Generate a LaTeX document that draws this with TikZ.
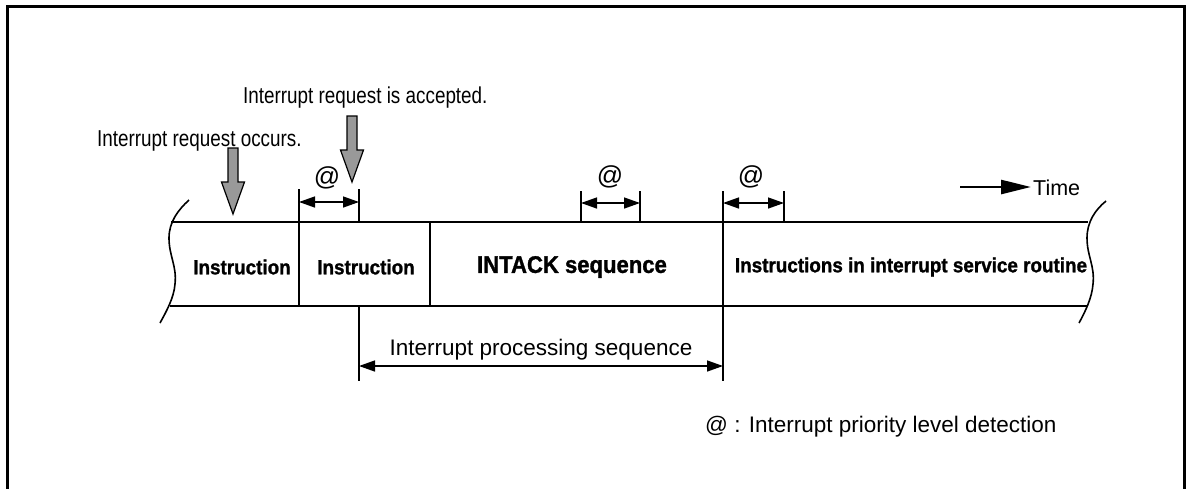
\documentclass[tikz,border=0pt]{standalone}
\usepackage{fontspec}
\setmainfont{Liberation Sans}
\newfontfamily\narrowfont[FakeStretch=0.82]{Liberation Sans}
\newfontfamily\heavyfont[FakeStretch=0.92, FakeBold=1.2]{Liberation Sans Bold}
\usetikzlibrary{arrows.meta, calc}

\tikzset{
  frame/.style={line width=3pt},
  bandline/.style={line width=2.2pt},
  edge/.style={line width=1.6pt},
  divider/.style={line width=1.6pt},
  dimarrow/.style={line width=1.4pt, {Triangle[length=16pt,width=11pt]}-{Triangle[length=16pt,width=11pt]}},
  reqarrow/.style={draw, line width=1.2pt, fill=black!40},
  boxlabel/.style={font=\heavyfont\fontsize{20.5pt}{24pt}\selectfont, inner sep=0pt},
  biglabel/.style={font=\heavyfont\fontsize{24pt}{28pt}\selectfont, inner sep=0pt},
  toplabel/.style={font=\narrowfont\fontsize{23pt}{26pt}\selectfont, inner sep=0pt},
  plainlabel/.style={font=\fontsize{22.5pt}{26pt}\selectfont, inner sep=0pt},
  timelabel/.style={font=\fontsize{21.5pt}{25pt}\selectfont, inner sep=0pt},
  atlabel/.style={font=\fontsize{26pt}{28pt}\selectfont, inner sep=0pt}
}

% block arrow pointing down, #1 = tip
\newcommand{\reqdown}[1]{%
  \draw[reqarrow] (#1) -- ($(#1)+(-11.5,-32)$) -- ($(#1)+(-5,-32)$)
    -- ($(#1)+(-5,-66)$) -- ($(#1)+(5,-66)$) -- ($(#1)+(5,-32)$)
    -- ($(#1)+(11.5,-32)$) -- cycle;}

\begin{document}
\begin{tikzpicture}[x=1pt, y=-1pt]
    \useasboundingbox (0,0) rectangle (1190,488);

    % frame
    \draw[frame] (7,492) -- (7,6) -- (1184,6) -- (1184,492);

    % band edges
    \draw[edge] (189,200) .. controls (178,210) and (169,222) .. (169,238)
        .. controls (169,256) and (177,266) .. (175,284)
        .. controls (174,298) and (166,312) .. (160,323);
    \draw[edge] (1106,201) .. controls (1095,210) and (1087,222) .. (1087,238)
        .. controls (1087,256) and (1095,266) .. (1093,284)
        .. controls (1092,298) and (1085,312) .. (1079,323);

    % band lines
    \draw[bandline] (171,222) -- (1088,222);
    \draw[bandline] (170,306) -- (1088,306);

    % dividers and ticks
    \coordinate (d1t) at (299,189);  \coordinate (d1b) at (299,306);
    \coordinate (d2t) at (359,189);  \coordinate (d2b) at (359,222);
    \coordinate (d2l) at (359,306);  \coordinate (d2e) at (359,381);
    \coordinate (d3t) at (430,222);  \coordinate (d3b) at (430,306);
    \coordinate (d4t) at (581,191);  \coordinate (d4b) at (581,222);
    \coordinate (d5t) at (640,191);  \coordinate (d5b) at (640,222);
    \coordinate (d6t) at (723,191);  \coordinate (d6e) at (723,381);
    \coordinate (d7t) at (784,191);  \coordinate (d7b) at (784,222);
    \draw[divider] (d1t) -- (d1b);
    \draw[divider] (d2t) -- (d2b);
    \draw[divider] (d2l) -- (d2e);
    \draw[divider] (d3t) -- (d3b);
    \draw[divider] (d4t) -- (d4b);
    \draw[divider] (d5t) -- (d5b);
    \draw[divider] (d6t) -- (d6e);
    \draw[divider] (d7t) -- (d7b);

    % band labels
    \node[boxlabel] (ins1) at (242,267) {Instruction};
    \node[boxlabel] (ins2) at (366,267) {Instruction};
    \node[biglabel] (intack) at (572,267) {INTACK sequence};
    \node[boxlabel] (isr) at (911,267) {Instructions in interrupt service routine};

    % priority detection windows
    \coordinate (w1a) at (299,202);  \coordinate (w1b) at (359,202);
    \coordinate (w2a) at (581,203);  \coordinate (w2b) at (640,203);
    \coordinate (w3a) at (723,203);  \coordinate (w3b) at (784,203);
    \draw[dimarrow] (w1a) -- (w1b);
    \draw[dimarrow] (w2a) -- (w2b);
    \draw[dimarrow] (w3a) -- (w3b);
    \node[atlabel] (at1) at (327,178) {@};
    \node[atlabel] (at2) at (610,177) {@};
    \node[atlabel] (at3) at (751,177) {@};

    % interrupt requests
    \coordinate (occ) at (233,214);
    \coordinate (acc) at (352,182);
    \reqdown{occ}
    \reqdown{acc}
    \node[toplabel, anchor=base west] (occurs) at (97,146) {Interrupt request occurs.};
    \node[toplabel, anchor=base west] (accepted) at (243,103) {Interrupt request is accepted.};

    % processing sequence
    \draw[dimarrow] (d2e |- 0,366) -- (d6e |- 0,366);
    \node[plainlabel, anchor=base] (proc) at (541,355) {Interrupt processing sequence};

    % time
    \coordinate (tstart) at (960,187);
    \coordinate (tend) at (1031,187);
    \draw[line width=2.5pt, -{Triangle[length=30pt,width=14pt]}] (tstart) -- (tend);
    \node[timelabel, anchor=base west] (time) at (1033,195) {Time};

    % legend
    \node[plainlabel, anchor=base west] (legend) at (705,432) {@ : Interrupt priority level detection};
\end{tikzpicture}
\end{document}
